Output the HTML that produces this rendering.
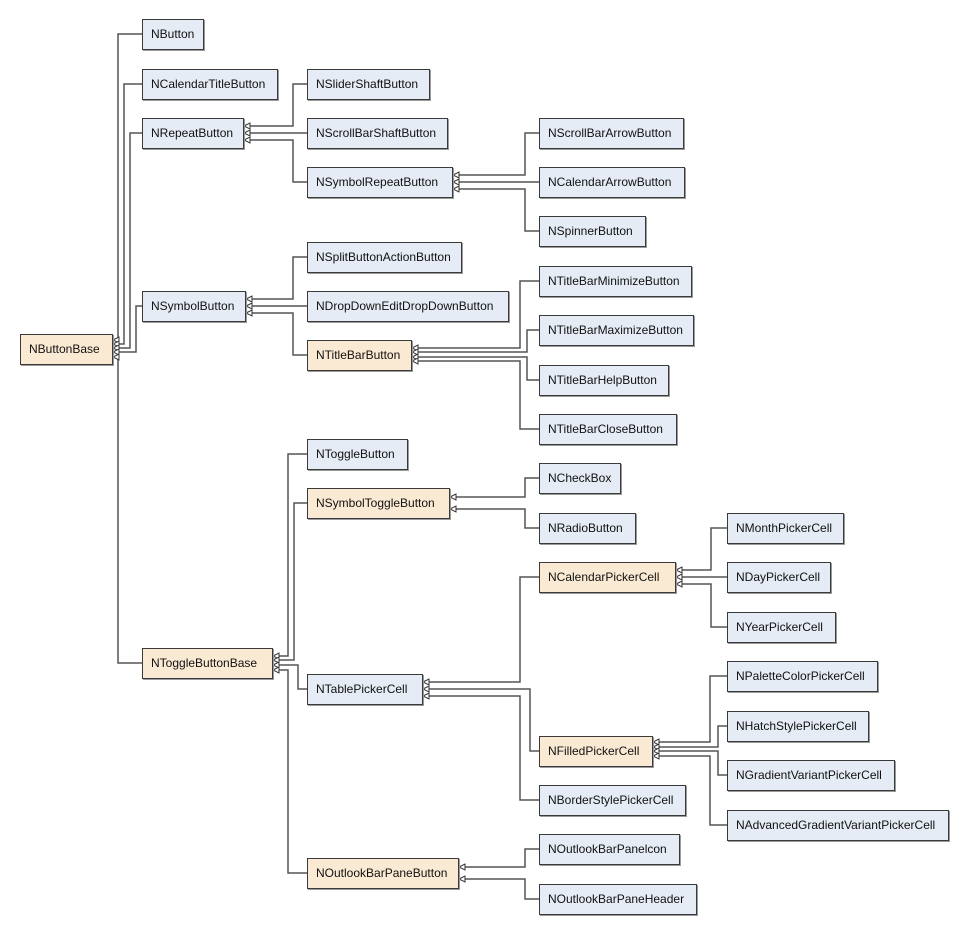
<!DOCTYPE html>
<html><head><meta charset="utf-8"><style>
body{margin:0;background:#fff;width:970px;height:935px;position:relative;overflow:hidden;font-family:"Liberation Sans",Arial,sans-serif;}
.b{position:absolute;box-sizing:border-box;border:1px solid #3a3a3a;background:#e6ecf6;font-size:12px;line-height:28px;padding-left:8px;color:#111;box-shadow:1px 1px 0 #9a9a9a;white-space:nowrap;}
.t{background:#fbead3;}
svg{position:absolute;left:0;top:0;}
</style></head><body>
<svg id="s" width="970" height="935"></svg>
<div class="b t" style="left:20px;top:334px;width:93px;height:31px">NButtonBase</div>
<div class="b" style="left:142px;top:19px;width:62px;height:31px">NButton</div>
<div class="b" style="left:142px;top:69px;width:136px;height:31px">NCalendarTitleButton</div>
<div class="b" style="left:142px;top:118px;width:102px;height:31px">NRepeatButton</div>
<div class="b" style="left:142px;top:291px;width:104px;height:31px">NSymbolButton</div>
<div class="b t" style="left:142px;top:648px;width:131px;height:31px">NToggleButtonBase</div>
<div class="b" style="left:307px;top:69px;width:123px;height:31px">NSliderShaftButton</div>
<div class="b" style="left:307px;top:118px;width:141px;height:31px">NScrollBarShaftButton</div>
<div class="b" style="left:307px;top:167px;width:146px;height:31px">NSymbolRepeatButton</div>
<div class="b" style="left:539px;top:118px;width:145px;height:31px">NScrollBarArrowButton</div>
<div class="b" style="left:539px;top:167px;width:146px;height:31px">NCalendarArrowButton</div>
<div class="b" style="left:539px;top:216px;width:107px;height:31px">NSpinnerButton</div>
<div class="b" style="left:307px;top:242px;width:155px;height:31px">NSplitButtonActionButton</div>
<div class="b" style="left:307px;top:291px;width:202px;height:31px">NDropDownEditDropDownButton</div>
<div class="b t" style="left:307px;top:340px;width:105px;height:31px">NTitleBarButton</div>
<div class="b" style="left:539px;top:266px;width:153px;height:31px">NTitleBarMinimizeButton</div>
<div class="b" style="left:539px;top:315px;width:155px;height:31px">NTitleBarMaximizeButton</div>
<div class="b" style="left:539px;top:365px;width:130px;height:31px">NTitleBarHelpButton</div>
<div class="b" style="left:539px;top:414px;width:138px;height:31px">NTitleBarCloseButton</div>
<div class="b" style="left:307px;top:439px;width:101px;height:31px">NToggleButton</div>
<div class="b t" style="left:307px;top:488px;width:143px;height:31px">NSymbolToggleButton</div>
<div class="b" style="left:539px;top:463px;width:82px;height:31px">NCheckBox</div>
<div class="b" style="left:539px;top:513px;width:97px;height:31px">NRadioButton</div>
<div class="b" style="left:307px;top:674px;width:116px;height:31px">NTablePickerCell</div>
<div class="b t" style="left:539px;top:562px;width:137px;height:31px">NCalendarPickerCell</div>
<div class="b" style="left:727px;top:513px;width:117px;height:31px">NMonthPickerCell</div>
<div class="b" style="left:727px;top:562px;width:104px;height:31px">NDayPickerCell</div>
<div class="b" style="left:727px;top:612px;width:109px;height:31px">NYearPickerCell</div>
<div class="b t" style="left:539px;top:736px;width:114px;height:31px">NFilledPickerCell</div>
<div class="b" style="left:539px;top:785px;width:147px;height:31px">NBorderStylePickerCell</div>
<div class="b" style="left:727px;top:661px;width:151px;height:31px">NPaletteColorPickerCell</div>
<div class="b" style="left:727px;top:711px;width:142px;height:31px">NHatchStylePickerCell</div>
<div class="b" style="left:727px;top:760px;width:168px;height:31px">NGradientVariantPickerCell</div>
<div class="b" style="left:727px;top:810px;width:222px;height:31px">NAdvancedGradientVariantPickerCell</div>
<div class="b t" style="left:307px;top:858px;width:152px;height:31px">NOutlookBarPaneButton</div>
<div class="b" style="left:539px;top:834px;width:141px;height:31px">NOutlookBarPanelcon</div>
<div class="b" style="left:539px;top:884px;width:158px;height:31px">NOutlookBarPaneHeader</div>
<script>
var s=document.getElementById('s'),h='';
// [parentRightX, arrowY, bendX, childCenterY, childLeftX]
function c(px,ay,bx,cy,cx){
 h+='<polyline points="'+(px+6)+','+ay+' '+bx+','+ay+' '+bx+','+cy+' '+cx+','+cy+'" fill="none" stroke="#555" stroke-width="1.5"/>';
 h+='<polygon points="'+px+','+ay+' '+(px+6)+','+(ay-3)+' '+(px+6)+','+(ay+3)+'" fill="#fff" stroke="#333" stroke-width="1"/>';
}
c(113,340,118,34,142);c(113,344,124,84,142);c(113,348,130,133,142);c(113,352,136,306,142);c(113,357,118,663,142);
c(244,126,293,84,307);c(244,133,293,133,307);c(244,140,293,182,307);
c(453,175,525,133,539);c(453,182,525,182,539);c(453,189,525,231,539);
c(246,299,293,257,307);c(246,306,293,306,307);c(246,313,293,355,307);
c(412,348,520,281,539);c(412,352,527,330,539);c(412,357,527,380,539);c(412,361,520,429,539);
c(273,656,288,454,307);c(273,660,294,503,307);c(273,665,298,689,307);c(273,670,288,873,307);
c(450,497,525,478,539);c(450,509,525,528,539);
c(423,682,520,577,539);c(423,689,530,751,539);c(423,696,520,800,539);
c(676,570,711,528,727);c(676,577,711,577,727);c(676,584,711,627,727);
c(653,742,710,676,727);c(653,747,718,726,727);c(653,751,718,775,727);c(653,756,710,825,727);
c(459,867,525,849,539);c(459,879,525,899,539);
s.innerHTML=h;
</script>
</body></html>
